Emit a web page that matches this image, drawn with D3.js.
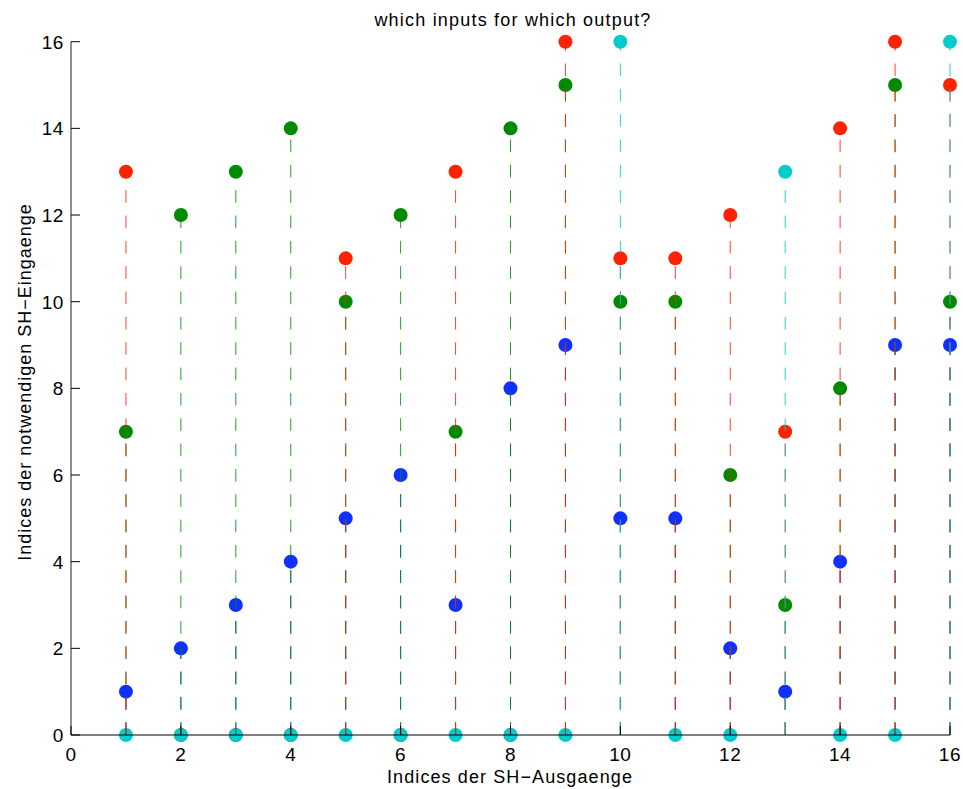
<!DOCTYPE html>
<html><head><meta charset="utf-8">
<script src="https://cdn.jsdelivr.net/npm/d3@7"></script>
<style>body{margin:0;background:#fff}svg{display:block}text{font-family:"Liberation Sans",Arial,Helvetica,sans-serif;fill:#000}</style>
</head><body>
<svg id="c" width="963" height="789"></svg>
<script>
const outputs = [1,2,3,4,5,6,7,8,9,10,11,12,13,14,15,16];
const redInput   = [13,0,0,0,11,0,13,0,16,11,11,12,7,14,16,15];
const greenInput = [7,12,13,14,10,12,7,14,15,10,10,6,3,8,15,10];
const blueInput  = [1,2,3,4,5,6,3,8,9,5,5,2,1,4,9,9];
const cyanInput  = [0,0,0,0,0,0,0,0,0,16,0,0,13,0,0,16];
const seriesColors = ["#ff2200","#008a00","#1030ff","#00cccc"];
const xTicks = [0,2,4,6,8,10,12,14,16];
const yTicks = [0,2,4,6,8,10,12,14,16];
const titleText = "which inputs for which output?";
const xLabel = "Indices der SH\u2212Ausgaenge";
const yLabel = "Indices der notwendigen SH\u2212Eingaenge";

const series = [redInput, greenInput, blueInput, cyanInput];
const stemOrder = [2,1,0,3];
const svg = d3.select("#c");
const x = d3.scaleLinear().domain([0,16]).range([71,950]);
const y = d3.scaleLinear().domain([0,16]).range([735,41.7]);
const fs = 19, ls = 0.6;

// markers first
series.forEach((vals,i)=>{
  svg.append("g").selectAll("circle").data(vals).join("circle")
    .attr("cx",(d,j)=>x(outputs[j])).attr("cy",d=>y(d)).attr("r",7)
    .attr("fill",seriesColors[i]);
});
// dashed stems on top
stemOrder.forEach(i=>{
  const vals = series[i];
  svg.append("g").selectAll("line").data(vals).join("line")
    .attr("x1",(d,j)=>x(outputs[j])).attr("x2",(d,j)=>x(outputs[j]))
    .attr("y1",y(0)).attr("y2",d=>y(d))
    .attr("stroke",seriesColors[i]).attr("stroke-width",1)
    .attr("stroke-opacity",0.85)
    .attr("stroke-dasharray","12.67,12.67");
});

// axes
const ax = svg.append("g");
ax.append("line").attr("x1",x(0)).attr("x2",x(0)).attr("y1",y(0)).attr("y2",y(16)).attr("stroke","#444").attr("stroke-width",1.2);
ax.append("line").attr("x1",x(0)).attr("x2",x(16)).attr("y1",y(0)).attr("y2",y(0)).attr("stroke","#000").attr("stroke-width",1.2);
ax.selectAll(".yt").data(yTicks).join("line").attr("class","yt")
  .attr("x1",x(0)).attr("x2",x(0)+9).attr("y1",d=>y(d)).attr("y2",d=>y(d)).attr("stroke","#000");
ax.selectAll(".xt").data(xTicks).join("line").attr("class","xt")
  .attr("x1",d=>x(d)).attr("x2",d=>x(d)).attr("y1",y(0)).attr("y2",y(0)-9).attr("stroke","#000");
ax.selectAll(".yl").data(yTicks).join("text").attr("class","yl")
  .attr("x",x(0)-7).attr("y",d=>y(d)+7).attr("text-anchor","end")
  .style("font-size",fs+"px").style("letter-spacing",ls+"px").text(d=>d);
ax.selectAll(".xl").data(xTicks).join("text").attr("class","xl")
  .attr("x",d=>x(d)).attr("y",761).attr("text-anchor","middle")
  .style("font-size",fs+"px").style("letter-spacing",ls+"px").text(d=>d);

svg.append("text").attr("x",513).attr("y",26).attr("text-anchor","middle")
  .style("font-size","18px").style("letter-spacing","1.2px").text(titleText);
svg.append("text").attr("x",510).attr("y",783).attr("text-anchor","middle")
  .style("font-size","18px").style("letter-spacing","1.1px").text(xLabel);
svg.append("text").attr("transform","translate(31,382) rotate(-90)").attr("text-anchor","middle")
  .style("font-size","18px").style("letter-spacing","1px").text(yLabel);
</script>
</body></html>
